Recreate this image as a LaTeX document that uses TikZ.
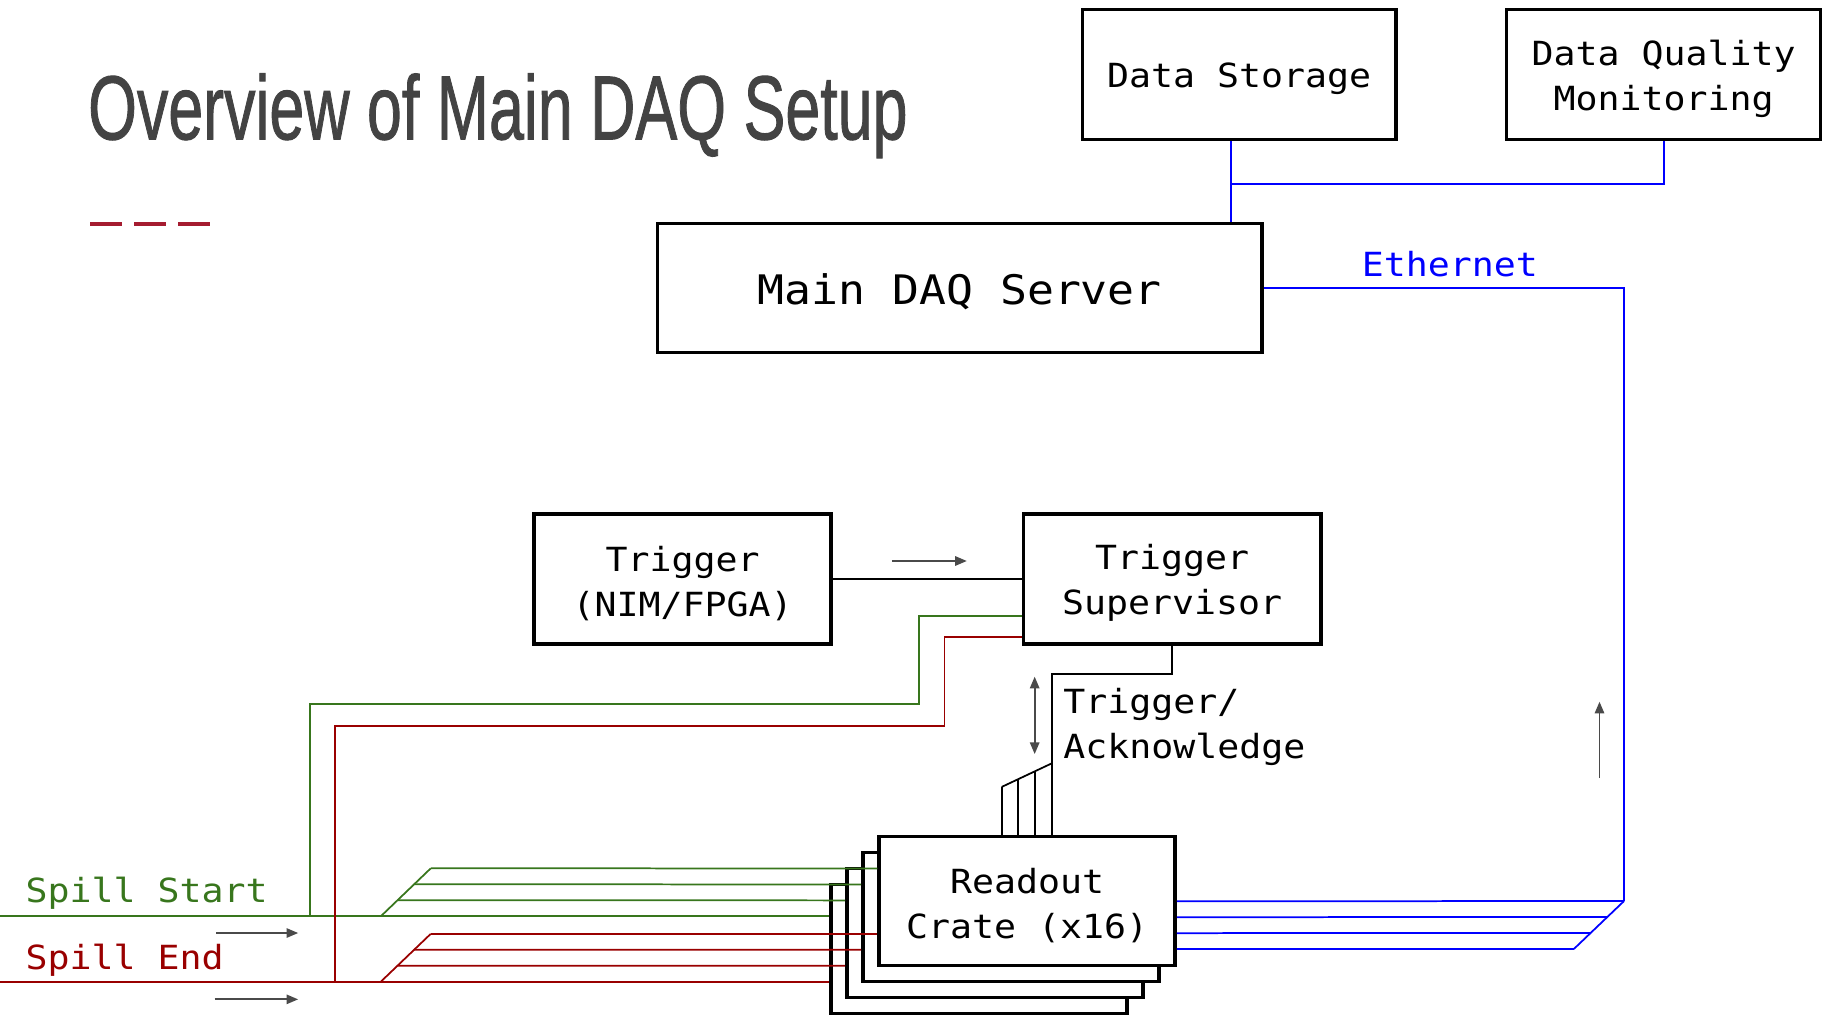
\documentclass[tikz,border=0pt]{standalone}
\usepackage{graphicx}
\usepackage{fontspec}
\setmainfont{Liberation Sans}
\newfontfamily\monof[FakeStretch=1.1]{DejaVu Sans Mono}
\newfontfamily\titlef[FakeBold=1.2]{Liberation Sans}
\usetikzlibrary{arrows.meta,calc}
\definecolor{tgray}{HTML}{434343}
\definecolor{sgreen}{HTML}{38761D}
\definecolor{sred}{HTML}{990000}
\definecolor{dashred}{HTML}{A51C30}
\definecolor{agray}{HTML}{4A4A4A}
\begin{document}
\begin{tikzpicture}[x=1pt,y=-1pt,
  box/.style={draw=black, line width=3pt, fill=white, inner sep=0pt},
  txt/.style={inner sep=0pt, align=center, yshift=-3.5pt,
    font=\monof\fontsize{28.5}{38.6}\selectfont},
  lbl/.style={inner sep=0pt, anchor=base west, font=\monof\fontsize{28.5}{38.6}\selectfont},
  bl/.style={draw=blue, line width=1.5pt},
  gl/.style={draw=sgreen, line width=1.5pt},
  rl/.style={draw=sred, line width=1.5pt},
  cl/.style={draw=black, line width=1.5pt},
  arr/.style={draw=agray, line width=1.6pt, -{Triangle[length=10pt,width=8pt]}},
  darr/.style={draw=agray, line width=1.6pt, {Triangle[length=10pt,width=8pt]}-{Triangle[length=10pt,width=8pt]}}]
\useasboundingbox (0,0) rectangle (1568,871);

% title
\node[inner sep=0pt, anchor=base west, text=tgray] (title) at (75.4,119.5)
  {\scalebox{0.69}[1]{\titlef\fontsize{78}{80}\selectfont Overview of Main DAQ Setup}};
\fill[dashred] (77.5,190.2) rectangle (104.5,193.9);
\fill[dashred] (114.9,190.2) rectangle (142.4,193.9);
\fill[dashred] (152.8,190.2) rectangle (180.4,193.9);

% boxes
\node[box, minimum width=269pt, minimum height=111.5pt,
  label={[txt]center:{Data Storage}}] (ds) at (1062.9,63.75) {};
\node[box, minimum width=269.5pt, minimum height=111.5pt,
  label={[txt, yshift=-0.8pt]center:{Data Quality\\Monitoring}}] (dqm) at (1427,63.75) {};
\node[box, minimum width=518.5pt, minimum height=110.8pt,
  label={[txt, font=\monof\fontsize{34.9}{40}\selectfont]center:{Main DAQ Server}}] (main) at (823.25,247) {};
\node[box, minimum width=255pt, minimum height=111.4pt,
  label={[txt]center:{Trigger\\(NIM/FPGA)}}] (trig) at (585.5,496.7) {};
\node[box, minimum width=255pt, minimum height=111.4pt,
  label={[txt]center:{Trigger\\Supervisor}}] (ts) at (1005.5,496.7) {};

\node[box, minimum width=254pt, minimum height=110.6pt] (c4) at (839.6,814.1) {};
\node[box, minimum width=254pt, minimum height=110.6pt] (c3) at (853.4,800.4) {};
\node[box, minimum width=254pt, minimum height=110.6pt] (c2) at (867.2,786.7) {};
\node[box, minimum width=254pt, minimum height=110.6pt,
  label={[txt]center:{Readout\\Crate (x16)}}] (c1) at (881,773) {};

% ethernet
\coordinate (xds) at (1056,0);
\draw[bl] (ds.south -| xds) -- (main.north -| xds);
\coordinate (jn) at (1056,157.6);
\draw[bl] (dqm.south) |- (jn);
\coordinate (ec) at (1393,772.9);
\draw[bl] (main.east) -| (ec);
\node[lbl, text=blue] (eth) at (1168,237.3) {Ethernet};
\foreach \k in {0,1,2,3}
  \draw[bl] ($(c1.east)+(0,13.7*\k)$) -- ($(ec)+(-14.33*\k,13.7*\k)$);
\draw[bl] (ec) -- ++(-43,41.1);

% trigger links
\draw[cl] (trig) -- (ts);
\coordinate (tx) at (902.1,0);
\draw[cl] (ts.south) -- ++(0,24.3) -| (c1.north -| tx);
\coordinate (dt) at (902.1,654.8);
\draw[cl] (dt) -- ++(-42.9,20.2);
\foreach \k in {1,2,3}
  \draw[cl] ($(c1.north -| tx)+(-14.3*\k,0)$) -- ($(dt)+(-14.3*\k,6.73*\k)$);
\node[lbl] (ta1) at (912,611.6) {Trigger/};
\node[lbl] (ta2) at (912,651) {Acknowledge};

% spill start (green)
\coordinate (sl) at (0,0);
\coordinate (g1) at ($(c1.west)+(0,-28.1)$);
\coordinate (g2) at ($(c2.west)+(0,-28.1)$);
\coordinate (g3) at ($(c3.west)+(0,-28.1)$);
\coordinate (g4) at ($(c4.west)+(0,-28.1)$);
\coordinate (gA) at (788.3,604.1);
\coordinate (gB) at (266,786);
\draw[gl] ($(ts.west)+(0,31.7)$) -| (gA) -| (gB);
\draw[gl] (g4 -| sl) -- (g4);
\coordinate (gd) at (326.6,786);
\draw[gl] (gd) -- ++(42.9,-41.2);
\draw[gl] ($(gd)+(14.3,-13.73)$) -- (g3);
\draw[gl] ($(gd)+(28.6,-27.46)$) -- (g2);
\draw[gl] ($(gd)+(42.9,-41.2)$) -- (g1);
\node[lbl, text=sgreen] (sst) at (21.8,774.3) {Spill Start};

% spill end (red)
\coordinate (r1) at ($(c1.west)+(0,28)$);
\coordinate (r2) at ($(c2.west)+(0,28)$);
\coordinate (r3) at ($(c3.west)+(0,28)$);
\coordinate (r4) at ($(c4.west)+(0,28)$);
\coordinate (rA) at (810.2,622.5);
\coordinate (rB) at (287.2,842.1);
\draw[rl] ($(ts.west)+(0,49.4)$) -| (rA) -| (rB);
\draw[rl] (r4 -| sl) -- (r4);
\coordinate (rd) at (326.6,842.1);
\draw[rl] (rd) -- ++(42.9,-41.1);
\draw[rl] ($(rd)+(14.3,-13.7)$) -- (r3);
\draw[rl] ($(rd)+(28.6,-27.4)$) -- (r2);
\draw[rl] ($(rd)+(42.9,-41.1)$) -- (r1);
\node[lbl, text=sred] (sen) at (21.8,831.2) {Spill End};

% direction arrows
\coordinate (a1s) at (185.7,800.3); \coordinate (a1e) at (255.8,800.3);
\coordinate (a2s) at (184.1,857.2); \coordinate (a2e) at (255.8,857.2);
\coordinate (a3s) at (765,481.2);   \coordinate (a3e) at (829.3,481.2);
\coordinate (a4s) at (887.5,580.4); \coordinate (a4e) at (887.5,646.8);
\coordinate (a5s) at (1372,667.5);  \coordinate (a5e) at (1372,601.9);
\draw[arr] (a1s) -- (a1e);
\draw[arr] (a2s) -- (a2e);
\draw[arr] (a3s) -- (a3e);
\draw[darr] (a4s) -- (a4e);
\draw[arr] (a5s) -- (a5e);
\end{tikzpicture}
\end{document}
